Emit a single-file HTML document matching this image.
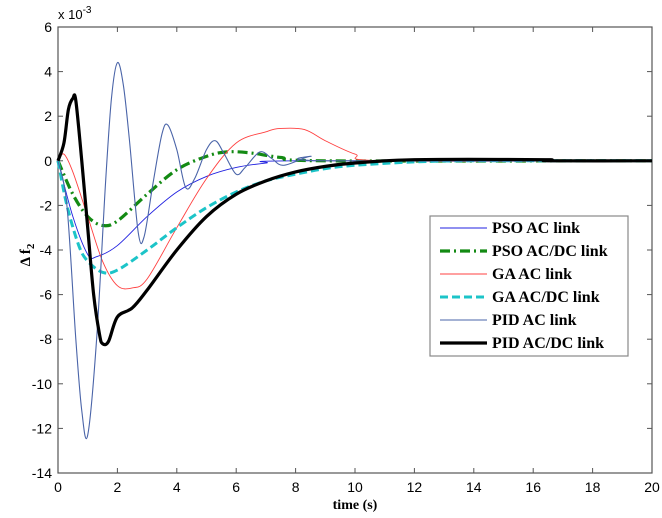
<!DOCTYPE html>
<html><head><meta charset="utf-8"><style>
body{margin:0;background:#fff;}
svg{display:block;font-family:"Liberation Sans",Arial,sans-serif;}
.lg{font-family:"Liberation Serif",serif;font-weight:bold;font-size:16px;}
</style></head><body>
<svg id="c" width="662" height="518"></svg>
<script>
const xTicks=[0,2,4,6,8,10,12,14,16,18,20];
const yTicks=[-14,-12,-10,-8,-6,-4,-2,0,2,4,6];
const seriesNames=["PSO AC link","PSO AC/DC link","GA AC link","GA AC/DC link","PID AC link","PID AC/DC link"];
const pidAC=[[0,0],[0.3,-2],[0.6,-8],[0.8,-11.2],[1.0,-12.3],[1.3,-8],[1.6,-1],[1.8,2.8],[2.0,4.4],[2.2,3.4],[2.4,1],[2.7,-3.2],[2.9,-3.4],[3.2,-1],[3.5,1.2],[3.7,1.6],[4.0,0.5],[4.3,-1.2],[4.6,-0.8],[5.0,0.5],[5.3,0.9],[5.6,0.3],[6.0,-0.6],[6.3,-0.3],[6.8,0.4],[7.2,0.1],[7.6,-0.2],[8.5,0.2],[9,0],[20,0]];
const psoAC=[[0,0],[0.5,-2.5],[1.0,-4.2],[1.3,-4.3],[2,-3.8],[3,-2.5],[4,-1.4],[5,-0.7],[6,-0.3],[7,-0.1],[8,0],[20,0]];
const psoACDC=[[0,0],[0.5,-1.5],[1,-2.5],[1.5,-2.9],[2,-2.7],[3,-1.5],[4,-0.4],[5,0.2],[5.7,0.4],[6.5,0.35],[7.5,0.15],[9,0],[20,0]];
const gaAC=[[0,0],[0.2,0.3],[0.5,-0.5],[1,-2.5],[1.5,-4.5],[2,-5.6],[2.5,-5.7],[3,-5.3],[4,-3],[5,-0.8],[6,0.8],[7,1.3],[7.5,1.45],[8.3,1.4],[9,0.9],[10,0.3],[11,0],[20,0]];
const gaACDC=[[0,0],[0.3,-2],[0.7,-3.8],[1,-4.5],[1.5,-5.0],[2,-4.9],[3,-4.0],[4,-3.0],[5,-2.1],[6,-1.4],[7,-0.9],[8,-0.6],[9,-0.35],[10,-0.2],[12,-0.05],[14,0],[20,0]];
const pidACDC=[[0,0],[0.2,0.8],[0.35,2.3],[0.5,2.8],[0.6,2.7],[0.8,0],[1.0,-3],[1.2,-6],[1.4,-7.8],[1.5,-8.2],[1.7,-8.1],[2,-7],[2.5,-6.6],[3,-5.8],[4,-4],[5,-2.5],[6,-1.5],[7,-0.9],[8,-0.5],[9,-0.25],[10,-0.1],[12,0.05],[16.4,0.05],[16.5,0],[20,0]];
const L=58,R=652,T=27,B=473;
const sx=v=>L+(v-0)/20*(R-L);
const sy=v=>B-(v+14)/20*(B-T);
const svg=document.getElementById('c');
const NS='http://www.w3.org/2000/svg';
function mk(tag,at,parent){const e=document.createElementNS(NS,tag);for(const k in at)e.setAttribute(k,at[k]);(parent||svg).appendChild(e);return e;}
function smooth(d){
 const p=d.map(q=>[sx(q[0]),sy(q[1])]);
 let s='M'+p[0][0]+','+p[0][1];
 for(let i=0;i<p.length-1;i++){
  const p0=p[Math.max(0,i-1)],p1=p[i],p2=p[i+1],p3=p[Math.min(p.length-1,i+2)];
  const c1x=p1[0]+(p2[0]-p0[0])/6,c1y=p1[1]+(p2[1]-p0[1])/6;
  const c2x=p2[0]-(p3[0]-p1[0])/6,c2y=p2[1]-(p3[1]-p1[1])/6;
  s+=' C'+c1x+','+c1y+' '+c2x+','+c2y+' '+p2[0]+','+p2[1];
 }
 return s;
}
let r=mk('rect',{x:L,y:T,width:R-L,height:B-T,fill:'#fff',stroke:'#555','stroke-width':1.2});


xTicks.forEach(v=>{
 mk('line',{x1:sx(v),x2:sx(v),y1:B,y2:B-5,stroke:'#555'});
 mk('line',{x1:sx(v),x2:sx(v),y1:T,y2:T+5,stroke:'#555'});
 const t=mk('text',{x:sx(v),y:B+19,'text-anchor':'middle','font-size':14});
 t.textContent=v;
 
 
});
yTicks.forEach(v=>{
 mk('line',{x1:L,x2:L+5,y1:sy(v),y2:sy(v),stroke:'#555'});
 mk('line',{x1:R,x2:R-5,y1:sy(v),y2:sy(v),stroke:'#555'});
 const t=mk('text',{x:L-6,y:sy(v)+5,'text-anchor':'end','font-size':14});
 t.textContent=v;
 
 
});
const ex=mk('text',{x:L,y:19,'font-size':13});
ex.innerHTML='x 10<tspan dy="-6" font-size="10">-3</tspan>';


const xt=mk('text',{x:355,y:509,'text-anchor':'middle','font-size':14,'font-weight':'bold','font-family':'Liberation Serif,serif'});
xt.textContent='time (s)';


const yt=mk('text',{x:0,y:0,transform:'translate(30,255) rotate(-90)','text-anchor':'middle','font-size':15,'font-weight':'bold','font-family':'Liberation Serif,serif'});
yt.innerHTML='Δ f<tspan dy="4" font-size="11">2</tspan>';


const styles=[
 {d:psoAC,c:'#2020e0',w:0.9,da:''},
 {d:psoACDC,c:'#138a13',w:3.2,da:'10 4 2 4'},
 {d:gaAC,c:'#ff4040',w:0.9,da:''},
 {d:gaACDC,c:'#1cc4c8',w:3,da:'8 4'},
 {d:pidAC,c:'#4a64a8',w:1.1,da:''},
 {d:pidACDC,c:'#000',w:3.2,da:''}];
const g=mk('g',{});
styles.forEach((s,i)=>{
 const p=mk('path',{d:smooth(s.d),fill:'none',stroke:s.c,'stroke-width':s.w,'stroke-dasharray':s.da,'stroke-linejoin':'round'},g);
 
 
});
const lg=mk('g',{});


mk('rect',{x:430,y:216,width:198,height:140,fill:'#fff',stroke:'#888','stroke-width':1.2},lg);
styles.forEach((s,i)=>{
 const y=228+i*23;
 mk('line',{x1:440,x2:487,y1:y,y2:y,stroke:s.c,'stroke-width':s.w,'stroke-dasharray':s.da},lg);
 const t=mk('text',{x:492,y:y+5,class:'lg'},lg);
 t.textContent=seriesNames[i];
 
 
});
</script>
</body></html>
